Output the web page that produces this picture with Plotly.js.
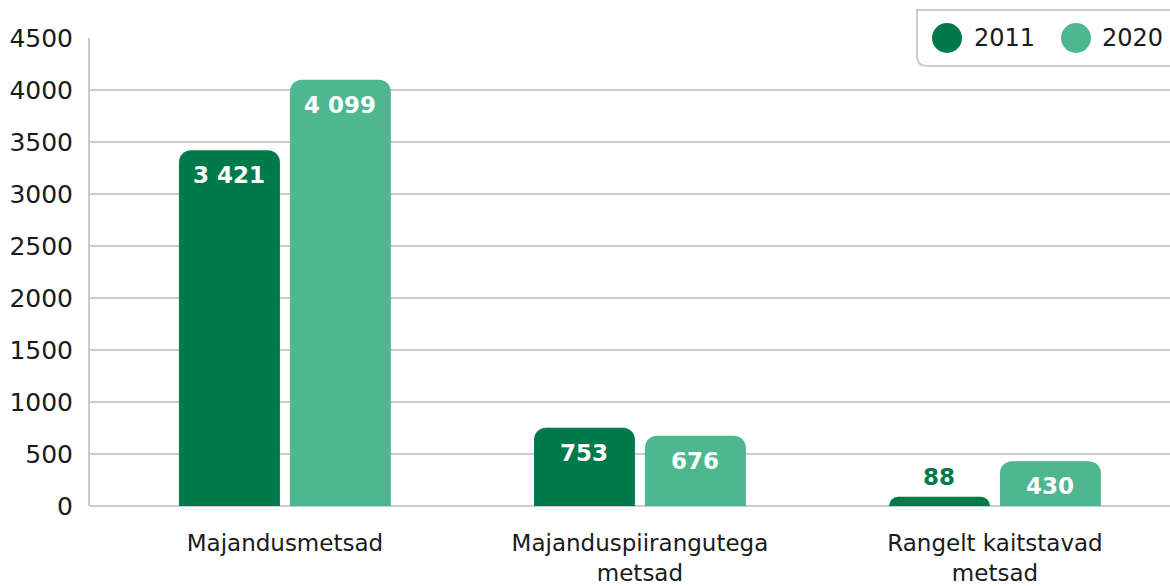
<!DOCTYPE html>
<html>
<head>
<meta charset="utf-8">
<script src="https://cdn.plot.ly/plotly-3.0.1.min.js"></script>
<style>
  html, body { margin: 0; padding: 0; background: #ffffff; }
  #chart { width: 1170px; height: 586px; }
</style>
</head>
<body>
<div id="chart"></div>
<script>
// ---- Data ----
const categories = ["Majandusmetsad", "Majanduspiirangutega<br>metsad", "Rangelt kaitstavad<br>metsad"];
const seriesNames = ["2011", "2020"];
const values2011 = [3421, 753, 88];
const values2020 = [4099, 676, 430];
const yTickVals = [0, 500, 1000, 1500, 2000, 2500, 3000, 3500, 4000, 4500];
const yTickText = ["0", "500", "1000", "1500", "2000", "2500", "3000", "3500", "4000", "4500"];

// ---- Style ----
const colors = ["#007a4b", "#4fb78f"];
const FONT = "DejaVu Sans, Liberation Sans, sans-serif";
const W = 1170, H = 586;
const M = {l: 90, r: 0, t: 38, b: 80};
const plotW = W - M.l - M.r, plotH = H - M.t - M.b;
const px2x = p => (p - M.l) / plotW;
const px2y = p => (H - M.b - p) / plotH;

const xIdx = categories.map((_, i) => i);
const allSeries = [values2011, values2020];

const traces = allSeries.map((vals, s) => ({
  type: "bar",
  name: seriesNames[s],
  x: xIdx,
  y: vals,
  marker: {color: colors[s], cornerradius: 12},
  hoverinfo: "skip",
  showlegend: false
}));

function fmt(v) {
  return String(v).replace(/\B(?=(\d{3})+(?!\d))/g, " ");
}

const annotations = [];
const offsets = [-55.5, 55.5];
allSeries.forEach((vals, s) => {
  vals.forEach((v, i) => {
    const small = v < 300;
    annotations.push({
      x: xIdx[i], y: v, xref: "x", yref: "y",
      text: "<b>" + fmt(v) + "</b>",
      showarrow: false,
      xshift: offsets[s],
      yshift: small ? 20 : -25,
      yanchor: "middle",
      font: {family: FONT, size: 23, color: small ? colors[s] : "#ffffff"}
    });
  });
});

// Legend (manual)
const legendCircleX = [947, 1076];
const legendTextX = [972, 1100];
const legendY = 38;
seriesNames.forEach((n, s) => {
  annotations.push({
    xref: "paper", yref: "paper",
    x: px2x(legendTextX[s]), y: px2y(legendY),
    xanchor: "left", yanchor: "middle",
    text: n, showarrow: false,
    font: {family: FONT, size: 24, color: "#1a1a1a"}
  });
});

const shapes = [];
// legend box with rounded bottom-left corner
const bx0 = px2x(917), bx1 = px2x(1180), byT = px2y(10), byB = px2y(66);
const rx = 10 / plotW, ry = 10 / plotH;
shapes.push({
  type: "path", xref: "paper", yref: "paper",
  path: `M ${bx1},${byT} L ${bx0},${byT} L ${bx0},${byB + ry} Q ${bx0},${byB} ${bx0 + rx},${byB} L ${bx1},${byB} Z`,
  fillcolor: "#ffffff",
  line: {color: "#cccccc", width: 2},
  layer: "above"
});
legendCircleX.forEach((cx, s) => {
  shapes.push({
    type: "circle", xref: "paper", yref: "paper",
    x0: px2x(cx - 15), x1: px2x(cx + 15),
    y0: px2y(legendY + 15), y1: px2y(legendY - 15),
    fillcolor: colors[s], line: {width: 0}, layer: "above"
  });
});

const layout = {
  width: W, height: H,
  margin: M,
  paper_bgcolor: "#ffffff",
  plot_bgcolor: "#ffffff",
  barmode: "group",
  bargap: 0.375,
  bargroupgap: 0.09,
  showlegend: false,
  font: {family: FONT, color: "#1a1a1a"},
  xaxis: {
    range: [-0.549, 2.493],
    tickmode: "array",
    tickvals: xIdx,
    ticktext: categories,
    showgrid: false,
    zeroline: false,
    showline: false,
    ticks: "",
    ticklabelstandoff: 21,
    tickfont: {family: FONT, size: 23, color: "#1a1a1a"},
    fixedrange: true
  },
  yaxis: {
    range: [0, 4500],
    tickmode: "array",
    tickvals: yTickVals,
    ticktext: yTickText,
    showgrid: true,
    gridcolor: "#cccccc",
    gridwidth: 2,
    zeroline: true,
    zerolinecolor: "#cccccc",
    zerolinewidth: 2,
    showline: true,
    linecolor: "#cccccc",
    linewidth: 2,
    ticks: "",
    ticklabelstandoff: 10,
    tickfont: {family: FONT, size: 25, color: "#1a1a1a"},
    fixedrange: true
  },
  annotations: annotations,
  shapes: shapes
};

Plotly.newPlot("chart", traces, layout, {displayModeBar: false, staticPlot: true});
</script>
</body>
</html>
